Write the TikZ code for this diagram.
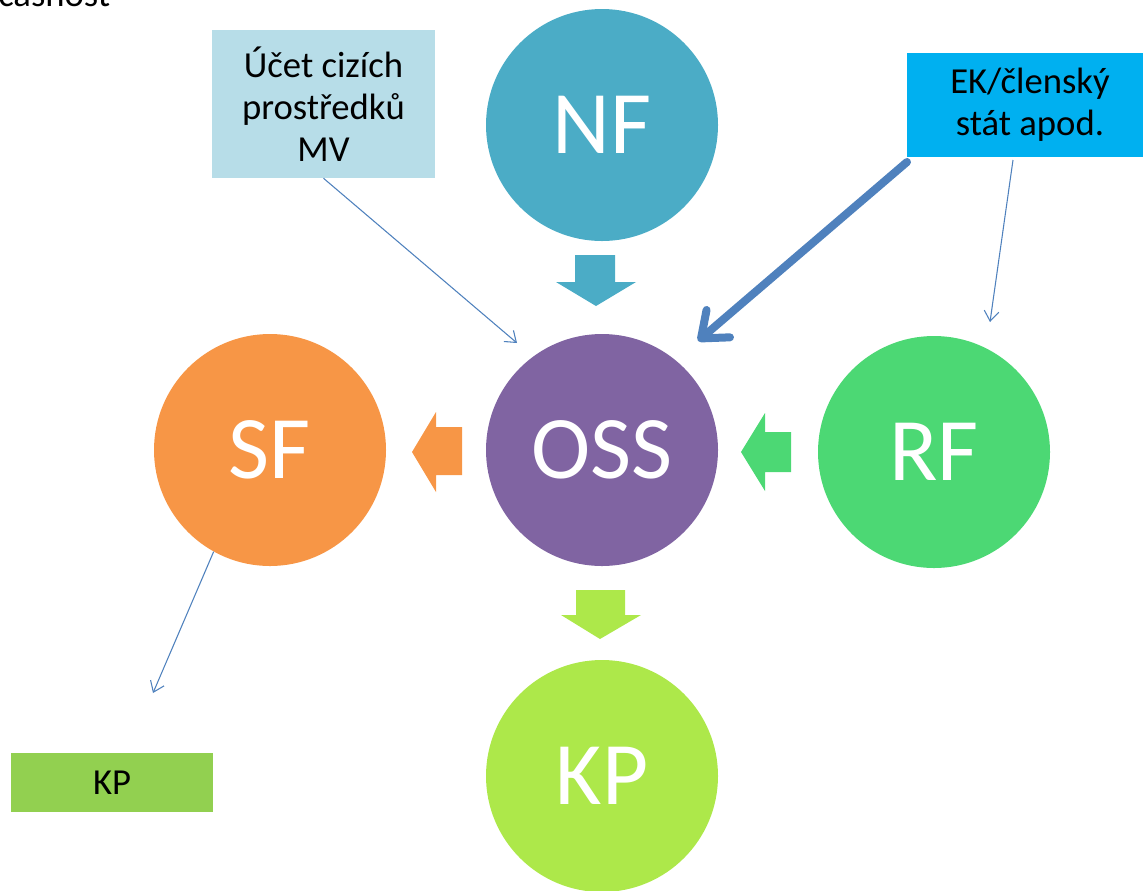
\documentclass[tikz,border=0pt]{standalone}
\usepackage{fontspec}
\setmainfont{Carlito}
\usetikzlibrary{arrows.meta}
\definecolor{nfc}{HTML}{4BACC6}
\definecolor{ossc}{HTML}{8064A2}
\definecolor{sfc}{HTML}{F79646}
\definecolor{rfc}{HTML}{4CD874}
\definecolor{kpc}{HTML}{ADE84A}
\definecolor{kpboxc}{HTML}{92D050}
\definecolor{lboxc}{HTML}{B7DDE8}
\definecolor{bboxc}{HTML}{00B0F0}
\definecolor{lnc}{HTML}{4F81BD}
\begin{document}
\begin{tikzpicture}[x=0.75pt,y=-0.75pt,
  bigc/.style={circle, minimum size=174pt, inner sep=0pt, text=white,
    font=\fontsize{67}{70}\selectfont},
  boxtxt/.style={rectangle, inner sep=0pt, align=center, text=black,
    font=\fontsize{27.5}{31.5}\selectfont},
  thinarr/.style={draw=lnc, line width=0.8pt, -{Straight Barb[length=7.5pt,width=11pt]}},
  thickarr/.style={draw=lnc, line width=6pt, line cap=round,
    -{Straight Barb[length=17pt,width=27pt,line cap=round,round]}}
]
\useasboundingbox (0,0) rectangle (1143,890);

% cropped heading
\node[anchor=base west, inner sep=0pt, font=\fontsize{27.5}{30}\selectfont] (head) at (-2,6) {časnost};

% circles
\node[bigc, fill=nfc]  (nf)  at (602,125) {NF};
\node[bigc, fill=ossc] (oss) at (602,450) {OSS};
\node[bigc, fill=sfc]  (sf)  at (270,450) {SF};
\node[bigc, fill=rfc]  (rf)  at (934,452) {RF};
\node[bigc, fill=kpc]  (kp)  at (602,776) {KP};

% boxes
\node[boxtxt, fill=lboxc, minimum width=167pt, minimum height=111pt] (lbox) at (323.5,104)
  {Účet cizích\\prostředků\\MV};
\node[boxtxt, fill=bboxc, minimum width=184.5pt, minimum height=78pt] (bbox) at (1030,105)
  {EK/členský\\stát apod.};
\node[boxtxt, fill=kpboxc, minimum width=151.5pt, minimum height=44pt] (kpbox) at (112,782.5)
  {KP};

% block arrows
\fill[nfc] (575,255) -- (615,255) -- (615,282) -- (636,282) -- (596,306) -- (556,282) -- (575,282) -- cycle;
\fill[sfc] (462,427) -- (462,475) -- (436,475) -- (436,492) -- (412,452) -- (436,412) -- (436,427) -- cycle;
\fill[rfc] (791,432) -- (791,472) -- (765,472) -- (765,491) -- (741,452) -- (765,413) -- (765,432) -- cycle;
\fill[kpc] (576,590) -- (625,590) -- (625,615) -- (641,615) -- (600,639) -- (561,615) -- (576,615) -- cycle;

% connector ends
\coordinate (lboxend) at (517,343);
\coordinate (bboxstart) at (1013,160);
\coordinate (bboxend) at (990,322);
\coordinate (thickstart) at (907,162);
\coordinate (thickend) at (698,341);
\coordinate (sfend) at (153,693);

% connectors
\draw[thinarr] (lbox.south) -- (lboxend);
\draw[thinarr] (bboxstart) -- (bboxend);
\draw[thinarr] (sf.241) -- (sfend);
\draw[thickarr] (thickstart) -- (thickend);
\end{tikzpicture}
\end{document}
